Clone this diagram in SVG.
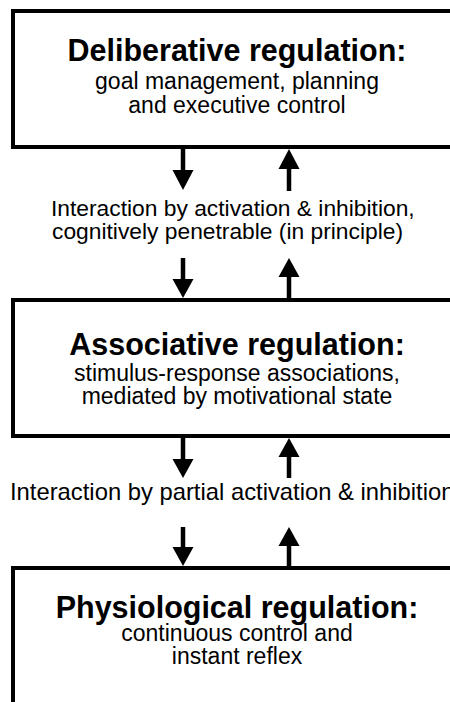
<svg xmlns="http://www.w3.org/2000/svg" width="450" height="702" viewBox="0 0 450 702">
  <style>
    .box { fill: #fff; stroke: #000; stroke-width: 4; }
    .title { font-family: "Liberation Sans", Arial, sans-serif; font-weight: bold; font-size: 30.5px; text-anchor: middle; fill: #000; }
    .sub { font-family: "Liberation Sans", Arial, sans-serif; font-size: 23px; text-anchor: middle; fill: #000; }
    .lbl { font-family: "Liberation Sans", Arial, sans-serif; font-size: 22.8px; fill: #000; }
    .shaft { stroke: #000; stroke-width: 4.5; fill: none; }
    .head { fill: #000; stroke: none; }
  </style>
  <rect width="450" height="702" fill="#fff"/>

  <g id="deliberative">
    <rect class="box" x="13" y="11" width="460" height="136"/>
    <text class="title" x="237" y="61">Deliberative regulation:</text>
    <text class="sub" x="237" y="89">goal management, planning</text>
    <text class="sub" x="237" y="113">and executive control</text>
  </g>

  <g id="associative">
    <rect class="box" x="13" y="300" width="460" height="136"/>
    <text class="title" x="237" y="355">Associative regulation:</text>
    <text class="sub" x="237" y="381">stimulus-response associations,</text>
    <text class="sub" x="237" y="404">mediated by motivational state</text>
  </g>

  <g id="physiological">
    <rect class="box" x="13" y="568" width="460" height="200"/>
    <text class="title" x="237" y="618">Physiological regulation:</text>
    <text class="sub" x="237" y="641">continuous control and</text>
    <text class="sub" x="237" y="664">instant reflex</text>
  </g>

  <g id="interaction-upper">
    <text class="lbl" x="51" y="216">Interaction by activation &amp; inhibition,</text>
    <text class="lbl" x="52" y="239">cognitively penetrable (in principle)</text>
  </g>

  <g id="interaction-lower">
    <text class="lbl" x="10" y="500" style="font-size:23.8px">Interaction by partial activation &amp; inhibition</text>
  </g>

  <g id="connectors">
    <!-- deliberative -> label -->
    <line class="shaft" x1="183" y1="149" x2="183" y2="172"/>
    <polygon class="head" points="172.5,170 193.5,170 183,190"/>
    <line class="shaft" x1="289" y1="167" x2="289" y2="191"/>
    <polygon class="head" points="289,149 278.5,169 299.5,169"/>
    <!-- label -> associative -->
    <line class="shaft" x1="183" y1="258" x2="183" y2="281"/>
    <polygon class="head" points="172.5,279 193.5,279 183,298"/>
    <line class="shaft" x1="289" y1="275" x2="289" y2="298"/>
    <polygon class="head" points="289,258 278.5,277 299.5,277"/>
    <!-- associative -> label -->
    <line class="shaft" x1="183" y1="438" x2="183" y2="461"/>
    <polygon class="head" points="172.5,459 193.5,459 183,478"/>
    <line class="shaft" x1="289" y1="455" x2="289" y2="478"/>
    <polygon class="head" points="289,438 278.5,457 299.5,457"/>
    <!-- label -> physiological -->
    <line class="shaft" x1="183" y1="527" x2="183" y2="549"/>
    <polygon class="head" points="172.5,547 193.5,547 183,566"/>
    <line class="shaft" x1="289" y1="544" x2="289" y2="566"/>
    <polygon class="head" points="289,527 278.5,546 299.5,546"/>
  </g>
</svg>
